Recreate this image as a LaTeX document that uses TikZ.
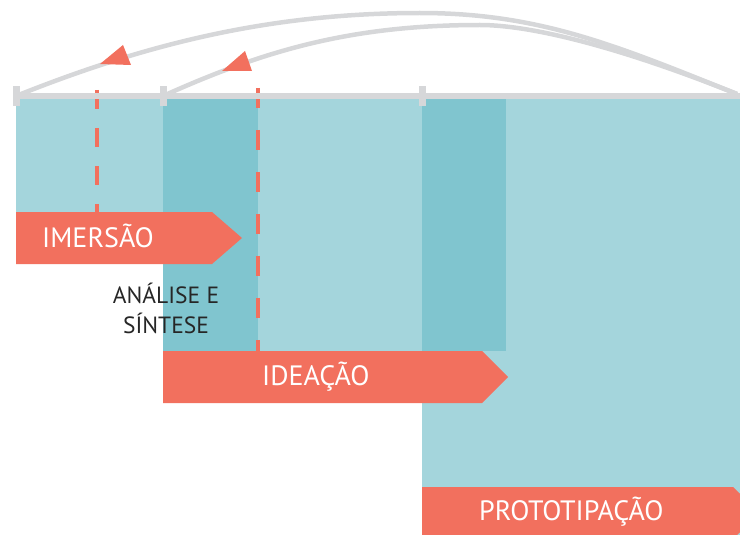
\documentclass[tikz,border=0pt]{standalone}
\usepackage{fontspec}
\setmainfont{PT Sans}
\usetikzlibrary{calc}
\definecolor{tealLight}{HTML}{A4D5DC}
\definecolor{tealDark}{HTML}{80C5CF}
\definecolor{coral}{HTML}{F2705E}
\definecolor{railGray}{HTML}{D6D7D9}
\definecolor{inkDark}{HTML}{262626}
\tikzset{
  band/.style={fill=tealLight, draw=none},
  bandDark/.style={fill=tealDark, draw=none},
  phase/.style={fill=coral, draw=none},
  phaseText/.style={text=white, inner sep=0pt, font=\fontsize{28}{28}\selectfont},
  noteText/.style={text=inkDark, inner sep=0pt, font=\fontsize{23.5}{23.5}\selectfont},
  divider/.style={draw=coral, line width=3.3pt},
  rail/.style={draw=railGray, line width=6.5pt},
  tickmark/.style={fill=railGray, draw=none},
  loopArc/.style={draw=railGray, line width=4.5pt},
  arcHead/.style={fill=coral, draw=none},
}
\begin{document}
\begin{tikzpicture}[x=1pt,y=-1pt]
\useasboundingbox (0,0) rectangle (740,535);
\clip (0,0) rectangle (740,535);

% teal phase backgrounds
\path[band] (16,99) rectangle (740,212);
\path[band] (163,99) rectangle (740,351);
\path[band] (422,99) rectangle (740,535);
\path[bandDark] (163,99) rectangle (258,351);
\path[bandDark] (422,99) rectangle (506,351);

% dashed dividers
\draw[divider, dash pattern=on 19pt off 19pt, dash phase=0pt] (97,90) -- (97,212);
\draw[divider, dash pattern=on 20pt off 22pt, dash phase=0pt] (258,88) -- (258,351);

% timeline rail and tick marks
\coordinate (t1) at (16,96);
\coordinate (t2) at (163,96);
\coordinate (t3) at (422,96);
\coordinate (tend) at (737,94);
\coordinate (peakOuter) at (420,13);
\coordinate (peakInner) at (480,25);
\draw[rail] (16,96) -- (740,96);
\foreach \p in {t1,t2,t3}
  \path[tickmark] ($(\p)+(-3.5,-10)$) rectangle ($(\p)+(3.5,10)$);

% iteration loops back to the start of a phase
\draw[loopArc] (tend) .. controls (617,46) and (540,13) .. (peakOuter)
                      .. controls (270,13) and (146,44) .. (t1);
\draw[loopArc] (tend) .. controls (617,46) and (530,25) .. (peakInner)
                      .. controls (350,25) and (263,51) .. (t2);
\path[arcHead] (100,64) -- (131,65) -- (123,45) -- cycle;
\path[arcHead] (222,71) -- (252,71) -- (245,51) -- cycle;

% phase arrows
\path[phase] (16,212) -- (212,212) -- (242,238) -- (212,264) -- (16,264) -- cycle;
\path[phase] (163,351) -- (482,351) -- (508,377) -- (482,403) -- (163,403) -- cycle;
\path[phase] (422,487) -- (733,487) -- (760,513) -- (733,539) -- (422,539) -- cycle;

\node[phaseText, anchor=base west] (imersao) at (42,247) {IMERSÃO};
\node[phaseText, anchor=base west] (ideacao) at (262,385) {IDEAÇÃO};
\node[phaseText, anchor=base west] (prototipacao) at (479,520) {PROTOTIPAÇÃO};

\node[noteText, anchor=base] (analise) at (166,303) {ANÁLISE E};
\node[noteText, anchor=base] (sintese) at (166,333) {SÍNTESE};
\end{tikzpicture}
\end{document}
